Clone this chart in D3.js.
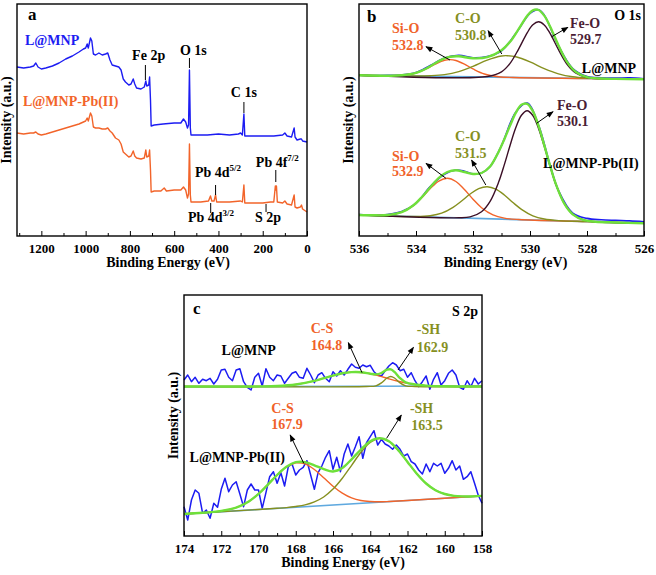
<!DOCTYPE html>
<html>
<head>
<meta charset="utf-8">
<script src="https://cdn.jsdelivr.net/npm/d3@7"></script>
<style>
  body { margin: 0; background: #fff; }
  svg text { font-family: "Liberation Serif", "Times New Roman", serif; font-weight: bold; }
</style>
</head>
<body>
<div class="xps"></div>
<script>
// ---------- tick labels ----------
var surveyTicks = [1200, 1000, 800, 600, 400, 200, 0];
var surveyMinor = [1300, 1100, 900, 700, 500, 300, 100];
var o1sTicks = [536, 534, 532, 530, 528, 526];
var o1sMinor = [535, 533, 531, 529, 527];
var s2pTicks = [174, 172, 170, 168, 166, 164, 162, 160, 158];
var s2pMinor = [173, 171, 169, 167, 165, 163, 161, 159];

// ---------- (a) survey spectra [binding energy eV, intensity a.u.] ----------
var surveyMNP = [[1310,169],[1280,168],[1250,169],[1235,170],[1225,173],[1215,169],[1200,167],[1180,168],[1150,170],
  [1120,173],[1090,177],[1060,180],[1030,184],[1010,187],[1000,188],[993,192],[988,188],[978,198],[972,195],
  [965,182],[955,181],[940,183],[925,181],[910,182],[900,183],[890,176],[880,171],[865,170],[850,169],[840,166],
  [830,157],[820,154],[805,151],[795,152],[785,157],[778,152],[770,148],[750,147],[735,149],[728,155],[724,150],
  [715,151],[711,159],[707,136],[704,110],[690,111],[650,112],[600,113],[570,113],[558,117],[548,114],[540,108],
  [535,111],[531,166],[527,108],[524,101],[500,101],[450,101],[400,102],[350,101],[310,102],[300,103],[292,101],
  [285,122],[281,100],[250,100],[200,100],[150,100],[110,101],[100,103],[90,100],[70,99],[58,108],[54,99],
  [45,96],[30,97],[25,97],[20,95],[0,94]];
var surveyPb = [[1310,103],[1280,102],[1250,103],[1235,103],[1225,104],[1215,102],[1200,101],[1180,102],[1150,104],
  [1120,106],[1090,108],[1060,110],[1030,112],[1010,114],[1000,115],[993,118],[988,115],[978,123],[972,120],
  [965,109],[955,108],[940,108],[925,107],[910,107],[900,108],[890,105],[880,103],[865,98],[850,96],[840,92],
  [830,84],[820,82],[805,79],[795,80],[785,85],[778,80],[770,78],[750,77],[735,78],[728,86],[724,79],
  [715,80],[711,86],[707,66],[704,44],[690,45],[660,45],[645,48],[635,45],[600,46],[570,46],[558,49],[548,46],
  [540,38],[535,42],[531,92],[527,41],[524,34],[480,34],[445,35],[436,40],[430,35],[420,35],[413,41],[408,34],
  [350,34],[300,35],[292,34],[285,51],[281,33],[250,33],[200,33],[165,34],[150,34],[143,50],[140,46],[138,50],
  [134,34],[110,33],[100,35],[90,32],[70,31],[58,41],[54,29],[45,28],[30,29],[25,31],[20,27],[0,24]];

// ---------- (b) O 1s, L@MNP ----------
var o1sMNPRaw = [[536,160.9],[535.5,160.4],[535,160.6],[534.5,161.2],[534,163.6],[533.5,170.5],[533,177.9],[532.5,180.6],
  [532,178.2],[531.5,179.4],[531,185.2],[530.5,202.4],[530,222.6],[529.7,226.3],[529.5,220.9],[529,190.2],
  [528.5,167.5],[528,159.6],[527.5,158.2],[527,157.9],[526.5,158.1],[526,157.3]];
var o1sMNPBg = [[536,160.7],[526,156.7]];
var o1sMNPSiO = [[536,160.7],[535,160.3],[534.5,160.7],[534,163.0],[533.6,167.7],[533.3,172.2],[533,175.7],[532.8,176.4],
  [532.6,175.5],[532.3,171.8],[532,167.1],[531.6,162.0],[531.1,159.3],[530.6,158.5],[528,157.5],[526,156.7]];
var o1sMNPCO = [[536,160.7],[534,160.0],[533.5,160.3],[533,161.4],[532.5,164.4],[532,169.7],[531.5,175.9],[531,180.0],
  [530.8,180.3],[530.5,179.2],[530,174.1],[529.5,167.4],[529,162.2],[528.5,159.2],[528,157.9],[527.5,157.4],[526,156.7]];
var o1sMNPFeO = [[536,160.7],[531.5,159.5],[531,164.1],[530.7,172.6],[530.4,186.9],[530.1,203.1],[529.9,211.2],[529.7,214.2],
  [529.5,211.1],[529.3,202.8],[529,186.3],[528.7,171.8],[528.4,163.1],[528,158.5],[527.5,157.4],[526,156.7]];
var o1sMNPFit = [[536,160.7],[535,160.3],[534.5,160.7],[534,163.1],[533.6,168.1],[533.3,173.2],[533,177.6],[532.8,179.3],
  [532.5,179.7],[532,177.7],[531.5,178.8],[531,185.8],[530.7,194.2],[530.4,206.9],[530.1,220.1],[529.9,225.7],
  [529.7,226.0],[529.5,220.4],[529.3,209.8],[529,190.6],[528.7,174.2],[528.4,164.3],[528,158.9],[527.5,157.5],
  [527,157.1],[526,156.7]];

// ---------- (b) O 1s, L@MNP-Pb(II) ----------
var o1sPbRaw = [[536,21.4],[535.5,21.0],[535,21.5],[534.5,24.4],[534,32.6],[533.5,49.5],[533,61.8],[532.6,66.0],[532.3,64.8],
  [532,62.1],[531.7,63.0],[531.4,69.5],[531,90.5],[530.5,123.8],[530.1,133.0],[529.7,110.8],[529.3,71.3],[529,45.3],
  [528.5,22.8],[528,17.6],[527.5,16.2],[527,15.6],[526.5,15.1],[526,14.3]];
var o1sPbBg = [[536,21.0],[526,12.7]];
var o1sPbSiO = [[536,21.0],[535.4,20.7],[534.9,21.2],[534.5,23.8],[534.1,30.3],[533.8,38.3],[533.5,47.4],[533.2,54.9],
  [532.9,57.7],[532.6,54.5],[532.3,46.4],[532,36.8],[531.7,28.3],[531.3,21.1],[530.9,17.9],[530.4,16.5],[528,14.4],[526,12.7]];
var o1sPbCO = [[536,21.0],[534,19.5],[533.5,20.3],[533.1,22.8],[532.7,28.7],[532.4,35.0],[532.1,42.0],[531.8,47.4],
  [531.5,49.3],[531.2,46.9],[530.9,41.0],[530.6,33.5],[530.3,26.7],[529.9,20.2],[529.5,17.0],[529,15.4],[528,14.4],[526,12.7]];
var o1sPbFeO = [[536,21.0],[532.5,18.2],[532.1,19.1],[531.7,24.3],[531.4,34.7],[531.1,53.9],[530.9,71.4],[530.7,90.5],
  [530.5,108.2],[530.3,120.8],[530.1,125.3],[529.9,120.5],[529.7,107.6],[529.5,89.6],[529.3,70.1],[529.1,52.3],
  [528.8,32.6],[528.5,21.7],[528.1,15.8],[527.7,14.3],[526,12.7]];
var o1sPbFit = [[536,21.0],[535.5,20.7],[535,21.0],[534.5,23.8],[534.1,30.5],[533.8,38.8],[533.5,48.8],[533.2,58.2],
  [532.9,64.0],[532.6,65.8],[532.3,64.0],[532,62.0],[531.7,63.0],[531.4,69.5],[531.1,84.3],[530.9,96.8],[530.7,110.4],
  [530.5,123.1],[530.3,131.2],[530.1,132.2],[529.9,124.8],[529.7,110.1],[529.5,90.9],[529.3,70.8],[529.1,52.5],
  [528.8,32.6],[528.5,21.7],[528.1,15.8],[527.7,14.3],[527,13.5],[526,12.7]];

// ---------- (c) S 2p raw counts, 0.2 eV steps from 174 to 158 eV ----------
var s2pEnergy = d3.range(0, 81).map(function(i) { return 174 - i * 0.2; });
var s2pMNPRaw = [156, 161, 154.3, 158.7, 152.7, 156.7, 155.3, 157.7, 152, 156.7,
  166, 166.7, 158.7, 155.3, 166, 167.3, 154.3, 148.7, 146, 158.7,
  162.7, 150, 167.3, 158.7, 155.3, 161, 160, 152.7, 157.7, 162.7,
  164.3, 158.7, 157.7, 167.7, 161, 153.3, 161, 163.3, 157.7, 154.3,
  164.3, 160, 165.3, 161, 166.7, 172, 168.7, 167.7, 171, 169.3,
  170.7, 164.3, 161, 160, 165.3, 170, 173.3, 171, 165.3, 166.7,
  158.7, 163.3, 155.3, 149.3, 154.3, 160, 146.7, 156.7, 163.3, 151,
  155.3, 162.7, 166, 161, 148.7, 146.7, 155.3, 149.3, 157.7, 152, 155.3];
var s2pPbRaw = [29.3, 16, 36, 46, 42.7, 22.7, 26, 17.7, 32.7, 28.7,
  46.7, 57.7, 44.3, 51, 54.3, 42, 29.3, 46, 52, 46,
  46, 27.7, 43.3, 59.3, 64.3, 52.7, 63.3, 50, 69.3, 72,
  61, 66, 68.7, 75.3, 61, 46.7, 63.3, 70, 78.7, 85.3,
  66.7, 78.7, 64.3, 82, 92, 80, 89.3, 99.3, 77.7, 93.3,
  99.3, 105.3, 91, 96.7, 92, 90, 86.7, 91, 86.7, 80,
  82, 74.3, 72, 66, 62, 72, 64.3, 72.7, 70, 72.7,
  62.7, 67.7, 75.3, 66, 70, 56.7, 59.3, 64.3, 52.7, 40.7, 32.7];

// ---------- (c) S 2p fits ----------
var s2pMNPBg = [[174,149.3],[158,150.0]];
var s2pMNPCS = [[174,149.5],[171,149.5],[170,149.6],[169,150.0],[168,151.5],[167,155.1],[166,160.4],[165.5,162.7],
  [164.8,164.0],[164,162.3],[163.5,159.9],[163,157.2],[162.5,154.7],[162,152.6],[161.5,151.2],[161,150.4],[160,149.7],[158,149.5]];
var s2pMNPSH = [[174,149.5],[164.2,149.5],[163.7,150.2],[163.4,153.1],[163.1,158.0],[162.9,159.5],[162.7,158.0],
  [162.4,153.1],[162.1,150.2],[161.6,149.5],[158,149.5]];
var s2pMNPFit = [[174,149.5],[171,149.5],[170,149.6],[169,150.0],[168,151.5],[167,155.1],[166,160.4],[165.5,162.7],
  [165,163.9],[164.5,163.8],[164,162.3],[163.7,161.6],[163.4,163.0],[163.1,166.3],[162.9,166.7],[162.7,164.1],
  [162.4,157.8],[162.1,153.7],[161.6,151.5],[161,150.4],[160,149.7],[158,149.5]];

var s2pPbBg = [[174,22.0],[158,40.0]];
var s2pPbCS = [[174,22.0],[173,23.2],[172,25.1],[171.5,26.8],[171,29.9],[170.5,34.8],[170,42.1],[169.5,51.3],[169,60.9],
  [168.5,69.0],[168,73.1],[167.9,73.3],[167.5,72.1],[167,66.5],[166.5,58.3],[166,49.8],[165.5,42.9],[165,38.1],
  [164.5,35.5],[164,34.5],[163.5,34.2],[163,34.5],[162,35.5],[160,37.8],[158,40.0]];
var s2pPbSH = [[174,22.0],[170,26.5],[169,27.7],[168.5,28.4],[168,29.5],[167.5,31.1],[167,34.1],[166.5,39.0],[166,46.9],
  [165.5,57.8],[165,70.7],[164.5,83.7],[164,93.6],[163.5,97.5],[163,94.7],[162.5,85.9],[162,74.1],[161.5,62.3],
  [161,52.5],[160.5,45.8],[160,42.0],[159.5,40.1],[159,39.6],[158.5,39.6],[158,40.1]];
var s2pPbFit = [[174,22.0],[173,23.2],[172,25.1],[171.5,26.8],[171,29.9],[170.5,34.8],[170,42.1],[169.5,51.3],[169,61.0],
  [168.5,69.2],[168,73.8],[167.5,73.9],[167,70.7],[166.5,66.9],[166,64.5],[165.5,68.0],[165,76.7],[164.5,86.5],
  [164,94.8],[163.5,97.9],[163,94.8],[162.5,85.9],[162,74.1],[161.5,62.3],[161,52.5],[160.5,45.8],[160,42.0],
  [159.5,40.1],[159,39.6],[158.5,39.6],[158,40.1]];

// ---------- colours ----------
var blue = "#1c1cf2", orange = "#f2642a", green = "#6ee03a", olive = "#86901f",
    maroon = "#3b0f26", bgBlue = "#5fa9df", labelOrange = "#f0622a", labelMaroon = "#4a1d35";

// ---------- annotations (data units) ----------
var surveyMarks = [[730,156,171],[531,168,178],[285,123,134],[413,41,51],[435,23,33],[185,24,32],[141,54,66]];
var surveyLabels = [
  {t: "Fe 2p", e: 790, i: 176}, {t: "O 1s", e: 574, i: 181}, {t: "C 1s", e: 344, i: 139},
  {t: "Pb 4d", s: "5/2", e: 506, i: 59}, {t: "Pb 4d", s: "3/2", e: 538, i: 14},
  {t: "S 2p", e: 235, i: 14}, {t: "Pb 4f", s: "7/2", e: 231, i: 69},
  {t: "L@MNP", e: 1274, i: 191, c: blue}, {t: "L@MNP-Pb(II)", e: 1283, i: 130, c: orange}];
var o1sLabels = [
  {t: "Si-O", e: 534.84, i: 203, c: labelOrange}, {t: "532.8", e: 534.84, i: 186, c: labelOrange},
  {t: "C-O", e: 532.63, i: 213, c: olive}, {t: "530.8", e: 532.63, i: 196, c: olive},
  {t: "Fe-O", e: 528.6, i: 208, c: labelMaroon}, {t: "529.7", e: 528.6, i: 192, c: labelMaroon},
  {t: "L@MNP", e: 528.18, i: 163},
  {t: "Fe-O", e: 529.05, i: 126.5, c: labelMaroon}, {t: "530.1", e: 529.05, i: 110.5, c: labelMaroon},
  {t: "C-O", e: 532.63, i: 95, c: olive}, {t: "531.5", e: 532.63, i: 78, c: olive},
  {t: "Si-O", e: 534.84, i: 75, c: labelOrange}, {t: "532.9", e: 534.84, i: 60, c: labelOrange},
  {t: "L@MNP-Pb(II)", e: 529.54, i: 68}];
var o1sArrows = [[532.81,176,533.65,189.3],[530.99,182,531.47,205.3],[529.24,199.3,528.67,208.7],
  [529.77,112.7,529.19,124.3],[531.55,51,532.05,76],[532.95,57.7,533.65,72.7]];
var s2pLabels = [
  {t: "L@MNP", e: 171.98, i: 181},
  {t: "C-S", e: 167.2, i: 203.3, c: labelOrange}, {t: "164.8", e: 167.2, i: 186, c: labelOrange},
  {t: "-SH", e: 161.5, i: 202, c: olive}, {t: "162.9", e: 161.5, i: 184.3, c: olive},
  {t: "C-S", e: 169.31, i: 123.3, c: labelOrange}, {t: "167.9", e: 169.31, i: 106.7, c: labelOrange},
  {t: "-SH", e: 161.87, i: 122.7, c: olive}, {t: "163.5", e: 161.8, i: 106, c: olive},
  {t: "L@MNP-Pb(II)", e: 173.7, i: 74}];
var s2pArrows = [[164.44,163.3,165.18,193.3],[162.51,166,161.68,188.7],[167.57,72.7,168.3,101],[163.12,97.7,162.33,121]];

// 1. svg
var svg = d3.select(".xps").append("svg")
    .attr("width", 656)
    .attr("height", 575);

svg.append("defs").append("marker")
    .attr("id", "arrow")
    .attr("viewBox", "0 0 10 10")
    .attr("refX", 9).attr("refY", 5)
    .attr("markerWidth", 8).attr("markerHeight", 7)
    .attr("orient", "auto")
  .append("path")
    .attr("d", "M0,1 L10,5 L0,9 Z")
    .attr("fill", "#000");

// 2. one panel = frame + bottom axis + titles
function makePanel(box, xDomain, yMax, ticks, minor, letter) {
  var x = d3.scaleLinear().domain(xDomain).range([0, box.w]);
  var y = d3.scaleLinear().domain([0, yMax]).range([box.h, 0]);
  var g = svg.append("g").attr("transform", "translate(" + box.left + "," + box.top + ")");

  g.append("g")
      .attr("transform", "translate(0," + box.h + ")")
      .call(d3.axisBottom(x).tickValues(minor).tickSize(-3).tickFormat(""))
      .call(function(a) { a.select(".domain").remove(); });
  g.append("g")
      .attr("class", "xaxis")
      .attr("transform", "translate(0," + box.h + ")")
      .call(d3.axisBottom(x).tickValues(ticks).tickSize(-5).tickPadding(8).tickFormat(d3.format("d")))
      .call(function(a) { a.select(".domain").remove(); })
      .attr("font-family", null)
      .attr("font-size", 13);

  g.append("text")
      .attr("x", box.w / 2 + box.tx)
      .attr("y", box.h + 31)
      .attr("text-anchor", "middle")
      .style("font-size", "14px")
      .text("Binding Energy (eV)");

  g.append("text")
      .attr("transform", "rotate(-90)")
      .attr("x", -box.h / 2)
      .attr("y", -6)
      .attr("text-anchor", "middle")
      .style("font-size", "14px")
      .text("Intensity (a.u.)");

  g.append("text")
      .attr("x", box.lx).attr("y", box.ly)
      .style("font-size", "17px")
      .text(letter);

  return {g: g, x: x, y: y, box: box};
}

function addLine(p, data, color, width, curve) {
  var line = d3.line()
      .x(function(d) { return p.x(d[0]); })
      .y(function(d) { return p.y(d[1]); })
      .curve(curve || d3.curveLinear);
  p.g.append("path")
      .datum(data)
      .attr("fill", "none")
      .attr("stroke", color)
      .attr("stroke-width", width)
      .attr("stroke-linejoin", "round")
      .attr("d", line);
}

function addLabels(p, labels) {
  labels.forEach(function(l) {
    var t = p.g.append("text")
        .attr("x", p.x(l.e))
        .attr("y", p.y(l.i))
        .attr("fill", l.c || "#000")
        .style("font-size", "14px")
        .text(l.t);
    if (l.s) {
      t.append("tspan").attr("dy", -6).style("font-size", "9px").text(l.s);
    }
  });
}

function addArrows(p, arrows) {
  arrows.forEach(function(a) {
    p.g.append("line")
        .attr("x1", p.x(a[0])).attr("y1", p.y(a[1]))
        .attr("x2", p.x(a[2])).attr("y2", p.y(a[3]))
        .attr("stroke", "#000")
        .attr("stroke-width", 1)
        .attr("marker-end", "url(#arrow)");
  });
}

function addFrame(p) {
  p.g.append("rect")
      .attr("width", p.box.w)
      .attr("height", p.box.h)
      .attr("fill", "none")
      .attr("stroke", "#000")
      .attr("stroke-width", 1.4);
}

var smooth = d3.curveCatmullRom.alpha(0.5);

// 3. panel a: survey
var pa = makePanel({left: 17, top: 4, w: 290, h: 232, tx: 6, lx: 11, ly: 16},
    [1310, 0], 232, surveyTicks, surveyMinor, "a");
addLine(pa, surveyMNP, blue, 1.4);
addLine(pa, surveyPb, orange, 1.4);
surveyMarks.forEach(function(m) {
  pa.g.append("line")
      .attr("x1", pa.x(m[0])).attr("x2", pa.x(m[0]))
      .attr("y1", pa.y(m[1])).attr("y2", pa.y(m[2]))
      .attr("stroke", "#000").attr("stroke-width", 1);
});
addLabels(pa, surveyLabels);
addFrame(pa);

// 4. panel b: O 1s
var pb = makePanel({left: 359, top: 4, w: 285, h: 232, tx: 4, lx: 8, ly: 18},
    [536, 526], 232, o1sTicks, o1sMinor, "b");
[[o1sMNPRaw, o1sMNPBg, o1sMNPSiO, o1sMNPCO, o1sMNPFeO, o1sMNPFit],
 [o1sPbRaw, o1sPbBg, o1sPbSiO, o1sPbCO, o1sPbFeO, o1sPbFit]].forEach(function(s) {
  addLine(pb, s[0], blue, 1.6, smooth);
  addLine(pb, s[1], bgBlue, 1.6, smooth);
  addLine(pb, s[2], orange, 1.4, smooth);
  addLine(pb, s[3], olive, 1.4, smooth);
  addLine(pb, s[4], maroon, 1.4, smooth);
  addLine(pb, s[5], green, 2.4, smooth);
});
addLabels(pb, o1sLabels);
addArrows(pb, o1sArrows);
pb.g.append("text")
    .attr("x", pb.box.w - 3).attr("y", 16)
    .attr("text-anchor", "end")
    .style("font-size", "14px")
    .text("O 1s");
addFrame(pb);

// 5. panel c: S 2p
var pc = makePanel({left: 184, top: 295, w: 298, h: 241, tx: 10, lx: 9, ly: 19},
    [174, 158], 241, s2pTicks, s2pMinor, "c");
addLine(pc, s2pEnergy.map(function(e, i) { return [e, s2pMNPRaw[i]]; }), blue, 1.5);
addLine(pc, s2pEnergy.map(function(e, i) { return [e, s2pPbRaw[i]]; }), blue, 1.5);
[[s2pMNPBg, s2pMNPCS, s2pMNPSH, s2pMNPFit], [s2pPbBg, s2pPbCS, s2pPbSH, s2pPbFit]].forEach(function(s) {
  addLine(pc, s[0], bgBlue, 1.6, smooth);
  addLine(pc, s[1], orange, 1.4, smooth);
  addLine(pc, s[2], olive, 1.4, smooth);
  addLine(pc, s[3], green, 2.4, smooth);
});
addLabels(pc, s2pLabels);
addArrows(pc, s2pArrows);
pc.g.append("text")
    .attr("x", pc.box.w - 4).attr("y", 21)
    .attr("text-anchor", "end")
    .style("font-size", "14px")
    .text("S 2p");
addFrame(pc);
</script>
</body>
</html>
